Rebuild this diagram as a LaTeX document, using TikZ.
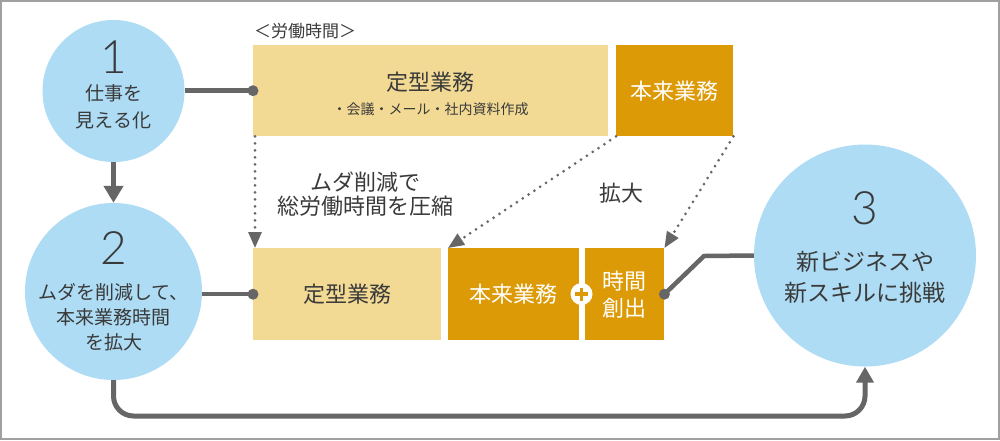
\documentclass[tikz,border=0pt]{standalone}
\usepackage{fontspec}
\setmainfont{Noto Sans CJK JP}
\newfontfamily\digitfont{Lato Light}
\usetikzlibrary{arrows.meta}
\definecolor{circblue}{HTML}{ADDCF4}
\definecolor{lightbox}{HTML}{F3DA94}
\definecolor{darkbox}{HTML}{DD9A07}
\definecolor{linegray}{HTML}{666666}
\definecolor{textgray}{HTML}{3A3A3A}
\definecolor{framegray}{HTML}{A0A0A0}
\tikzset{
  circ/.style={circle, fill=circblue, inner sep=0pt, minimum size=#1},
  boxl/.style={fill=lightbox, inner sep=0pt, anchor=north west, text=textgray},
  boxd/.style={fill=darkbox, inner sep=0pt, anchor=north west, text=white},
  txt/.style={text=textgray, inner sep=0pt, align=center},
  digit/.style={text=textgray, inner sep=0pt, font=\digitfont\fontsize{46}{46}\selectfont},
  solidline/.style={draw=linegray, line width=4.5pt},
  enddot/.style={fill=linegray},
  bigarrow/.style={draw=linegray, line width=5pt, -{Triangle[length=17pt,width=19pt]}},
  dotarrow/.style={draw=linegray, line width=3pt, line cap=round, dash pattern=on 0pt off 7pt,
    -{Triangle[length=16pt,width=13pt]}},
}
\begin{document}
\begin{tikzpicture}[x=1pt,y=-1pt]
\useasboundingbox (0,0) rectangle (1000,440);
\fill[white] (0,0) rectangle (1000,440);
\draw[framegray, line width=2pt] (1,1) rectangle (999,439);

% circles
\node[circ=142] (c1) at (113.5,91) {};
\node[circ=177] (c2) at (113.5,291.5) {};
\node[circ=222] (c3) at (865,255.5) {};

\node[digit] (n1) at (113.5,57) {1};
\node[txt, font=\fontsize{19}{27}\selectfont] (l1) at (113.5,107) {仕事を\\見える化};
\node[digit] (n2) at (113.5,248) {2};
\node[txt, font=\fontsize{19}{25}\selectfont] (l2) at (113.5,317) {ムダを削減して、\\本来業務時間\\を拡大};
\node[digit] (n3) at (865,208) {3};
\node[txt, font=\fontsize{23}{31}\selectfont] (l3) at (865,277) {新ビジネスや\\新スキルに挑戦};

% boxes
\node[txt, font=\fontsize{17}{17}\selectfont, anchor=west] (hdr) at (254,31) {＜労働時間＞};
\node[boxl, minimum width=355pt, minimum height=91pt] (t1) at (253,45) {};
\node[txt, font=\fontsize{22}{22}\selectfont] (t1a) at (430.5,82) {定型業務};
\node[txt, font=\fontsize{14}{14}\selectfont] (t1b) at (430.5,109) {・会議・メール・社内資料作成};
\node[boxd, minimum width=117pt, minimum height=91pt, font=\fontsize{22}{22}\selectfont] (t2) at (616,45) {本来業務};

\node[boxl, minimum width=188pt, minimum height=92pt, font=\fontsize{22}{22}\selectfont] (b1) at (253,248) {定型業務};
\node[boxd, minimum width=131pt, minimum height=92pt, font=\fontsize{22}{22}\selectfont] (b2) at (448,248) {本来業務};
\node[boxd, minimum width=79pt, minimum height=92pt, font=\fontsize{22}{27}\selectfont, align=center] (b3) at (585,248) {時間\\創出};

\node[circle, fill=white, inner sep=0pt, minimum size=22pt] (pl) at (581.5,294) {};
\draw[darkbox, line width=3.5pt] ([xshift=-6.5pt]pl.center) -- ([xshift=6.5pt]pl.center);
\draw[darkbox, line width=3.5pt] ([yshift=-6.5pt]pl.center) -- ([yshift=6.5pt]pl.center);

% middle texts
\node[txt, font=\fontsize{22}{24}\selectfont] (mz) at (365,194) {ムダ削減で\\総労働時間を圧縮};
\node[txt, font=\fontsize{22}{22}\selectfont] (kd) at (621,193) {拡大};

% connectors
\draw[solidline] (c1.east |- t1.west) -- (t1.west);
\fill[enddot] (t1.west) circle (5.5);
\draw[solidline] (b1.west -| c2.east) -- (b1.west);
\fill[enddot] (b1.west) circle (5.5);
\coordinate (kink) at (704,256);
\draw[solidline, line join=miter] (b3.east) -- (kink) -- (c3.west);
\fill[enddot] (b3.east) circle (5.5);

\draw[bigarrow] (c1.south) -- (c2.north);
\coordinate (bot) at (865,416);
\draw[draw=linegray, line width=5pt, rounded corners=20pt, -{Triangle[length=16pt,width=17pt]}] (c2.south) |- (bot) -- (c3.south);

\draw[dotarrow] ([xshift=2pt]t1.south west) -- ([xshift=2pt]b1.north west);
\draw[dotarrow] (t2.south west) -- (b2.north west);
\draw[dotarrow] (t2.south east) -- (b3.north east);
\end{tikzpicture}
\end{document}
